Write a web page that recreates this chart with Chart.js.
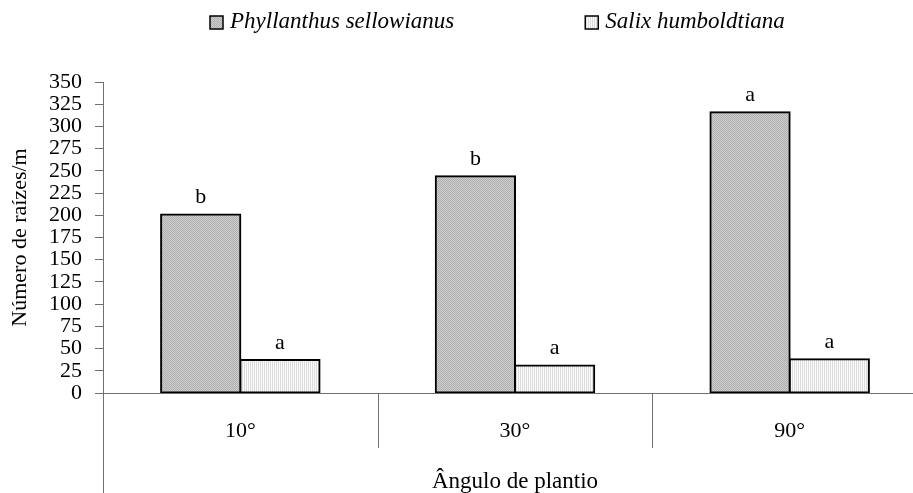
<!DOCTYPE html>
<html>
<head>
<meta charset="utf-8">
<script src="https://cdn.jsdelivr.net/npm/chart.js@4.4.0/dist/chart.umd.min.js"></script>
<style>
    html, body { margin: 0; padding: 0; background: #fff; overflow: hidden; }
    #wrap { width: 930px; height: 493px; }
</style>
</head>
<body>
<div id="wrap"><canvas id="chart" width="930" height="493"></canvas></div>
<script>
// Data
const angles = ["10°", "30°", "90°"];
const seriesNames = ["Phyllanthus sellowianus", "Salix humboldtiana"];
const phyllanthus = [201, 244, 316];
const salix = [37, 31, 38];
const phyllanthusLetters = ["b", "b", "a"];
const salixLetters = ["a", "a", "a"];

const serif = "'Liberation Serif', 'Times New Roman', serif";
Chart.defaults.font.family = serif;
Chart.defaults.color = "#000";

// Small fill patterns like the original print hatching
function makePattern(kind) {
    const c = document.createElement("canvas");
    c.width = 4;
    c.height = 4;
    const g = c.getContext("2d");
    if (kind === "grain") {
        g.fillStyle = "#cdcdcd";
        g.fillRect(0, 0, 4, 4);
        g.fillStyle = "#b0b0b0";
        for (let x = 0; x < 4; x++) {
            for (let y = 0; y < 4; y++) {
                if ((x + y) % 2 === 0) g.fillRect(x, y, 1, 1);
            }
        }
    } else {
        g.fillStyle = "#fbfbfb";
        g.fillRect(0, 0, 4, 4);
        g.fillStyle = "#dcdcdc";
        g.fillRect(0, 0, 1, 4);
        g.fillRect(2, 0, 1, 4);
    }
    return g.createPattern(c, "repeat");
}

const ctx = document.getElementById("chart").getContext("2d");
const fills = [makePattern("grain"), makePattern("stripes")];

// Axis lines, category dividers, legend and significance letters
const decorations = {
    id: "decorations",
    beforeDatasetsDraw(chart) {
        const { ctx, chartArea, scales } = chart;
        const x = scales.x;
        ctx.save();
        ctx.strokeStyle = "#707070";
        ctx.lineWidth = 1;
        ctx.beginPath();
        // vertical axis runs down to the bottom edge
        ctx.moveTo(chartArea.left + 0.5, chartArea.top);
        ctx.lineTo(chartArea.left + 0.5, chart.height);
        // base line
        ctx.moveTo(chartArea.left - 8, chartArea.bottom + 0.5);
        ctx.lineTo(chart.width, chartArea.bottom + 0.5);
        // dividers between categories
        for (let i = 0; i < angles.length - 1; i++) {
            const bx = Math.round((x.getPixelForValue(i) + x.getPixelForValue(i + 1)) / 2) + 0.5;
            ctx.moveTo(bx, chartArea.bottom);
            ctx.lineTo(bx, chartArea.bottom + 55);
        }
        ctx.stroke();
        ctx.restore();
    },
    afterDatasetsDraw(chart) {
        const { ctx } = chart;
        ctx.save();
        ctx.fillStyle = "#000";
        ctx.font = "22px " + serif;
        ctx.textAlign = "center";
        ctx.textBaseline = "alphabetic";
        chart.data.datasets.forEach((ds, i) => {
            chart.getDatasetMeta(i).data.forEach((bar, j) => {
                ctx.fillText(ds.letters[j], bar.x, bar.y - 11);
            });
        });

        // legend
        ctx.font = "italic 23px " + serif;
        ctx.textAlign = "left";
        ctx.textBaseline = "middle";
        let lx = 210;
        const ly = 22;
        chart.data.datasets.forEach((ds) => {
            ctx.fillStyle = ds.backgroundColor;
            ctx.fillRect(lx, ly - 6, 13, 13);
            ctx.strokeStyle = "#000";
            ctx.lineWidth = 1.5;
            ctx.strokeRect(lx, ly - 6, 13, 13);
            ctx.fillStyle = "#000";
            ctx.fillText(ds.label, lx + 20, ly);
            lx += 20 + ctx.measureText(ds.label).width + 131;
        });
        ctx.restore();
    }
};

new Chart(ctx, {
    type: "bar",
    data: {
        labels: angles,
        datasets: [
            {
                label: seriesNames[0],
                data: phyllanthus,
                letters: phyllanthusLetters,
                backgroundColor: fills[0],
                borderColor: "#000",
                borderWidth: 2,
                borderSkipped: false,
                inflateAmount: 1
            },
            {
                label: seriesNames[1],
                data: salix,
                letters: salixLetters,
                backgroundColor: fills[1],
                borderColor: "#000",
                borderWidth: 2,
                borderSkipped: false,
                inflateAmount: 1
            }
        ]
    },
    options: {
        responsive: false,
        animation: false,
        categoryPercentage: 0.577,
        barPercentage: 1,
        layout: {
            padding: { top: 82, right: 3, left: 0, bottom: 0 }
        },
        plugins: {
            legend: { display: false },
            tooltip: { enabled: false }
        },
        scales: {
            x: {
                grid: { display: false, drawTicks: false },
                border: { display: false },
                ticks: { padding: 25, font: { size: 22 }, color: "#000" },
                title: {
                    display: true,
                    text: "Ângulo de plantio",
                    font: { size: 23 },
                    color: "#000",
                    padding: { top: 0, bottom: -3 }
                },
                afterFit: (scale) => { scale.height = 100; }
            },
            y: {
                min: 0,
                max: 350,
                grid: { drawOnChartArea: false, tickLength: 8, color: "#707070" },
                border: { display: false },
                ticks: { stepSize: 25, padding: 13, font: { size: 22 }, color: "#000", autoSkip: false },
                title: {
                    display: true,
                    text: "Número de raízes/m",
                    font: { size: 22 },
                    color: "#000",
                    padding: { top: 7, bottom: 0 }
                },
                afterFit: (scale) => { scale.width = 103; }
            }
        }
    },
    plugins: [decorations]
});
</script>
</body>
</html>
